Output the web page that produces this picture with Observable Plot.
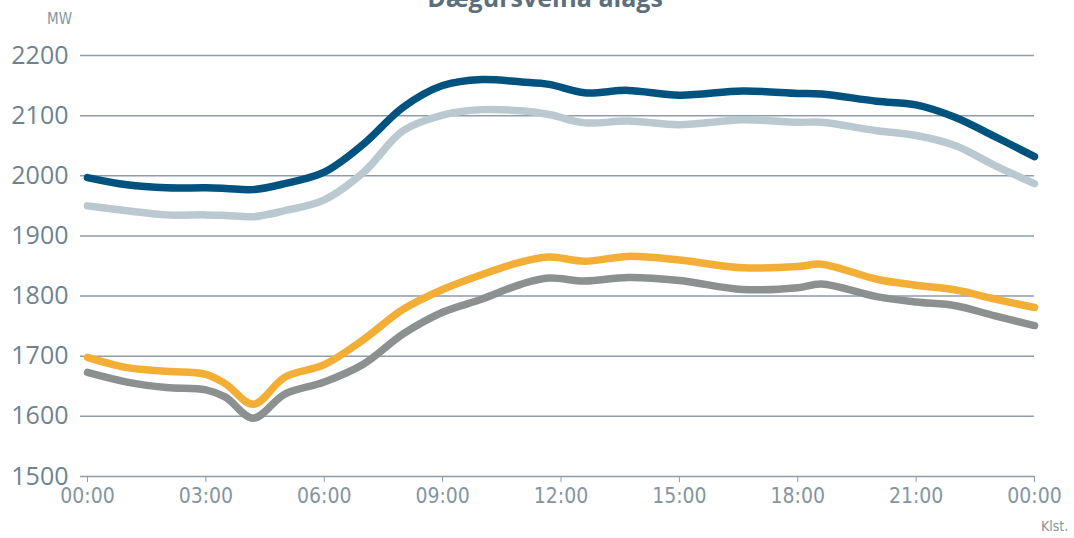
<!DOCTYPE html>
<html>
<head>
<meta charset="utf-8">
<script src="https://cdn.jsdelivr.net/npm/d3@7"></script>
<script src="https://cdn.jsdelivr.net/npm/@observablehq/plot@0.6"></script>
<style>
  html, body { margin: 0; padding: 0; background: #fff; }
  #wrap { position: relative; width: 1074px; height: 538px; overflow: hidden; }
  .title { position: absolute; top: -20px; left: 0; width: 1090px; text-align: center;
           font: bold 25px "Open Sans", sans-serif; color: #5b6f7d; }
  .unit { position: absolute; font-family: "DejaVu Sans Condensed", "Liberation Sans Narrow", sans-serif; font-stretch: condensed; font-size: 14px; color: #8395a1; }
</style>
</head>
<body>
<div id="wrap">
  <div class="title">Dægursveifla álags</div>
  <div class="unit" style="left:47px; top:10px; font-size:15px;">MW</div>
  <div class="unit" style="left:1041px; top:518px;">Klst.</div>
  <div id="chart"></div>
</div>
<script>
const hours = [0, 1, 2, 3, 3.5, 4.2, 5, 6, 7, 8, 9, 10, 11, 11.7, 12.6, 13.7, 15, 16.6, 18, 18.6, 20, 21, 22, 23, 24];
const seriesA = [1997, 1985, 1980, 1980, 1979, 1977, 1987, 2006, 2053, 2114, 2150, 2160, 2156, 2152, 2138, 2142, 2134, 2141, 2137, 2136, 2124, 2118, 2097, 2065, 2032];
const seriesB = [1950, 1942, 1935, 1935, 1934, 1932, 1942, 1960, 2006, 2075, 2101, 2110, 2108, 2102, 2088, 2091, 2085, 2093, 2089, 2089, 2075, 2067, 2050, 2017, 1987];
const seriesC = [1698, 1681, 1675, 1670, 1654, 1620, 1665, 1686, 1728, 1778, 1811, 1836, 1857, 1865, 1858, 1866, 1860, 1847, 1849, 1853, 1828, 1818, 1810, 1795, 1781];
const seriesD = [1673, 1657, 1648, 1644, 1632, 1597, 1637, 1657, 1687, 1737, 1773, 1795, 1820, 1830, 1825, 1831, 1826, 1811, 1814, 1820, 1799, 1790, 1784, 1767, 1751];

const seriesNames = ["S-B", "S-A", "S-D", "S-C"];
const seriesValues = [seriesB, seriesA, seriesD, seriesC];
const seriesColors = ["#bac8d0", "#00537f", "#8c9091", "#f3ae36"];

const yTicks = [1500, 1600, 1700, 1800, 1900, 2000, 2100, 2200];
const xTicks = [0, 3, 6, 9, 12, 15, 18, 21, 24];
const xTickLabels = ["00:00", "03:00", "06:00", "09:00", "12:00", "15:00", "18:00", "21:00", "00:00"];

const data = seriesNames.flatMap((name, i) =>
  hours.map((h, j) => ({series: name, hour: h, value: seriesValues[i][j]}))
);

const chart = Plot.plot({
  width: 1074,
  height: 538,
  marginTop: 55,
  marginBottom: 62,
  marginLeft: 80,
  marginRight: 40,
  insetLeft: 7,
  x: {domain: [0, 24]},
  y: {domain: [1500, 2200]},
  color: {type: "ordinal", domain: seriesNames, range: seriesColors},
  marks: [
    Plot.ruleY(yTicks, {stroke: "#8e9da8", strokeWidth: 1.5}),
    Plot.axisY({ticks: yTicks, tickSize: 0, tickPadding: 12, label: null, tickFormat: "d",
                fontFamily: "Open Sans, sans-serif", fontSize: 25, fill: "#6e8390"}),
    Plot.axisX({ticks: xTicks, tickSize: 6, tickPadding: 6, stroke: "#8e9da8",
                fontFamily: "DejaVu Sans Condensed, Liberation Sans Narrow, sans-serif", fontSize: 21, fill: "#8395a1",
                tickFormat: (d) => xTickLabels[xTicks.indexOf(d)], label: null}),
    Plot.line(data, {x: "hour", y: "value", z: "series", stroke: "series",
                     strokeWidth: 7.5, curve: "catmull-rom", strokeLinecap: "round", strokeLinejoin: "round"})
  ]
});
document.getElementById("chart").appendChild(chart);
</script>
</body>
</html>
